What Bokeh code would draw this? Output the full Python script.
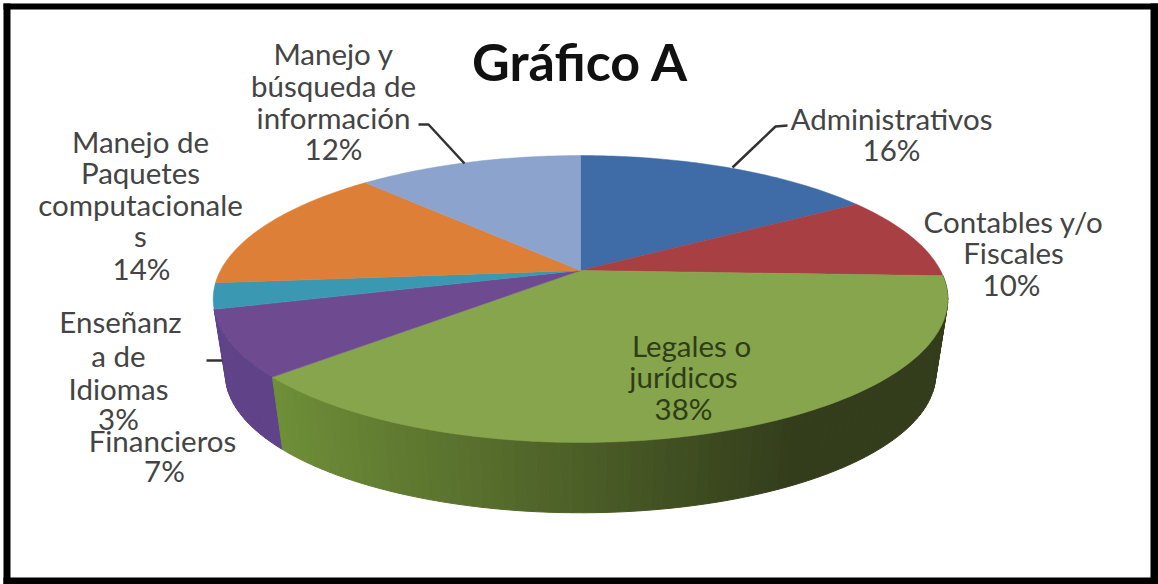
import math
from bokeh.plotting import figure
from bokeh.models import Range1d
from bokeh.core.properties import value
from bokeh.embed import file_html
from bokeh.resources import INLINE

# ---- data ----
categories = ["Administrativos", "Contables y/o Fiscales", "Legales o jurídicos", "Financieros",
              "Enseñanza de Idiomas", "Manejo de Paquetes computacionales", "Manejo y búsqueda de información"]
shares = [16.1, 9.5, 37.7, 7.4, 2.9, 14.4, 12.0]
top_colors = ["#3f6ca6", "#a73f43", "#86a54c", "#6e4b90", "#3a98b2", "#dd7f36", "#8ba3cd"]
wall_colors = ["#2f5078", "#7a2e30", "#6f8f38", "#5f4288", "#2b7285", "#a55f28", "#67799a"]
wall_end = "#333d1b"

title = "Gráfico A"
label_lines = [
    ("Manejo y", 333, 53), ("búsqueda de", 333, 85), ("información", 333, 117), ("12%", 333, 148),
    ("Manejo de", 140, 141), ("Paquetes", 140, 172), ("computacionale", 140, 204), ("s", 140, 235), ("14%", 141, 268),
    ("Enseñanz", 120, 321), ("a de", 118, 355), ("Idiomas", 118, 388), ("3%", 118, 418),
    ("Financieros", 162, 440), ("7%", 164, 470),
    ("Administrativos", 891, 118), ("16%", 891, 149),
    ("Contables y/o", 1013, 221), ("Fiscales", 1013, 252), ("10%", 1011, 284),
]
inner_lines = [("Legales o", 691, 345), ("jurídicos", 683, 376), ("38%", 683, 408)]
leaders = [([418, 428, 464], [124, 124, 163]),
           ([787, 775, 732], [125, 126, 167]),
           ([206, 222], [360, 360])]

# ---- geometry ----
CX, CY, A, B, K = 580, 270, 360, 137.8, 0.1986
DEPTH, SHRINK = 76, 0.967

def top_pt(deg):
    t = math.radians(deg)
    u, v = math.sin(t), math.cos(t)
    d = 1 + K * v
    return CX + A * u / d, CY - B * v / d

def bot_pt(deg):
    x, y = top_pt(deg)
    return CX + (x - CX) * SHRINK, CY + DEPTH + (y - CY) * SHRINK

def mix(c1, c2, f):
    a = [int(c1[i:i + 2], 16) for i in (1, 3, 5)]
    b = [int(c2[i:i + 2], 16) for i in (1, 3, 5)]
    return "#%02x%02x%02x" % tuple(round(p + (q - p) * f) for p, q in zip(a, b))

total = sum(shares)
edges = [0]
for s in shares:
    edges.append(edges[-1] + s * 360 / total)

p = figure(width=1158, height=584, x_range=Range1d(0, 1158), y_range=Range1d(584, 0),
           output_backend="svg", toolbar_location=None, min_border=0,
           x_axis_type=None, y_axis_type=None)
p.grid.visible = False
p.outline_line_color = None
p.background_fill_color = "#ffffff"

# side wall: farthest slice first, only the slices that face the viewer
xs, ys, cs = [], [], []
for i in (3, 2):
    a0, a1 = edges[i], edges[i + 1]
    n = max(2, int((a1 - a0) / 1.5))
    for j in range(n):
        s0, s1 = a0 + (a1 - a0) * j / n, a0 + (a1 - a0) * (j + 1) / n
        t0, t1, b1, b0 = top_pt(s0), top_pt(s1), bot_pt(s1), bot_pt(s0)
        xs.append([t0[0], t1[0], b1[0], b0[0]])
        ys.append([t0[1], t1[1], b1[1], b0[1]])
        if i == 2:
            f = min(1, max(0, (sum(xs[-1]) / 4 - 272) / 520))
            cs.append(mix(wall_colors[2], wall_end, f))
        else:
            cs.append(wall_colors[i])
p.patches(xs, ys, fill_color=cs, line_color=cs, line_width=1)

# top slices
for i in range(len(shares)):
    a0, a1 = edges[i], edges[i + 1]
    n = max(2, int(a1 - a0))
    pts = [top_pt(a0 + (a1 - a0) * j / n) for j in range(n + 1)]
    p.patch([CX] + [q[0] for q in pts], [CY] + [q[1] for q in pts],
            fill_color=top_colors[i], line_color=top_colors[i], line_width=0.5)

# frame
p.quad(left=[3, 1150, 3, 3], right=[10, 1158, 1158, 1158],
       top=[3, 3, 3, 577], bottom=[584, 584, 9, 584], fill_color="#000000", line_color=None)

# leaders
for lx, ly in leaders:
    p.line(lx, ly, line_color="#333333", line_width=2.5)

# texts
p.text([t[1] for t in label_lines], [t[2] for t in label_lines], text=[t[0] for t in label_lines],
       text_font=value("Lato"), text_font_size="29.5px", text_color="#444444",
       text_align="center", text_baseline="middle")
p.text([t[1] for t in inner_lines], [t[2] for t in inner_lines], text=[t[0] for t in inner_lines],
       text_font=value("Lato"), text_font_size="29.5px", text_color="#2e3d16",
       text_align="center", text_baseline="middle")
p.text([580], [60], text=[title], text_font=value("Lato"), text_font_size="52px",
       text_font_style="bold", text_color="#111111", text_align="center", text_baseline="middle")

open("out.html", "w").write(file_html(p, INLINE))
